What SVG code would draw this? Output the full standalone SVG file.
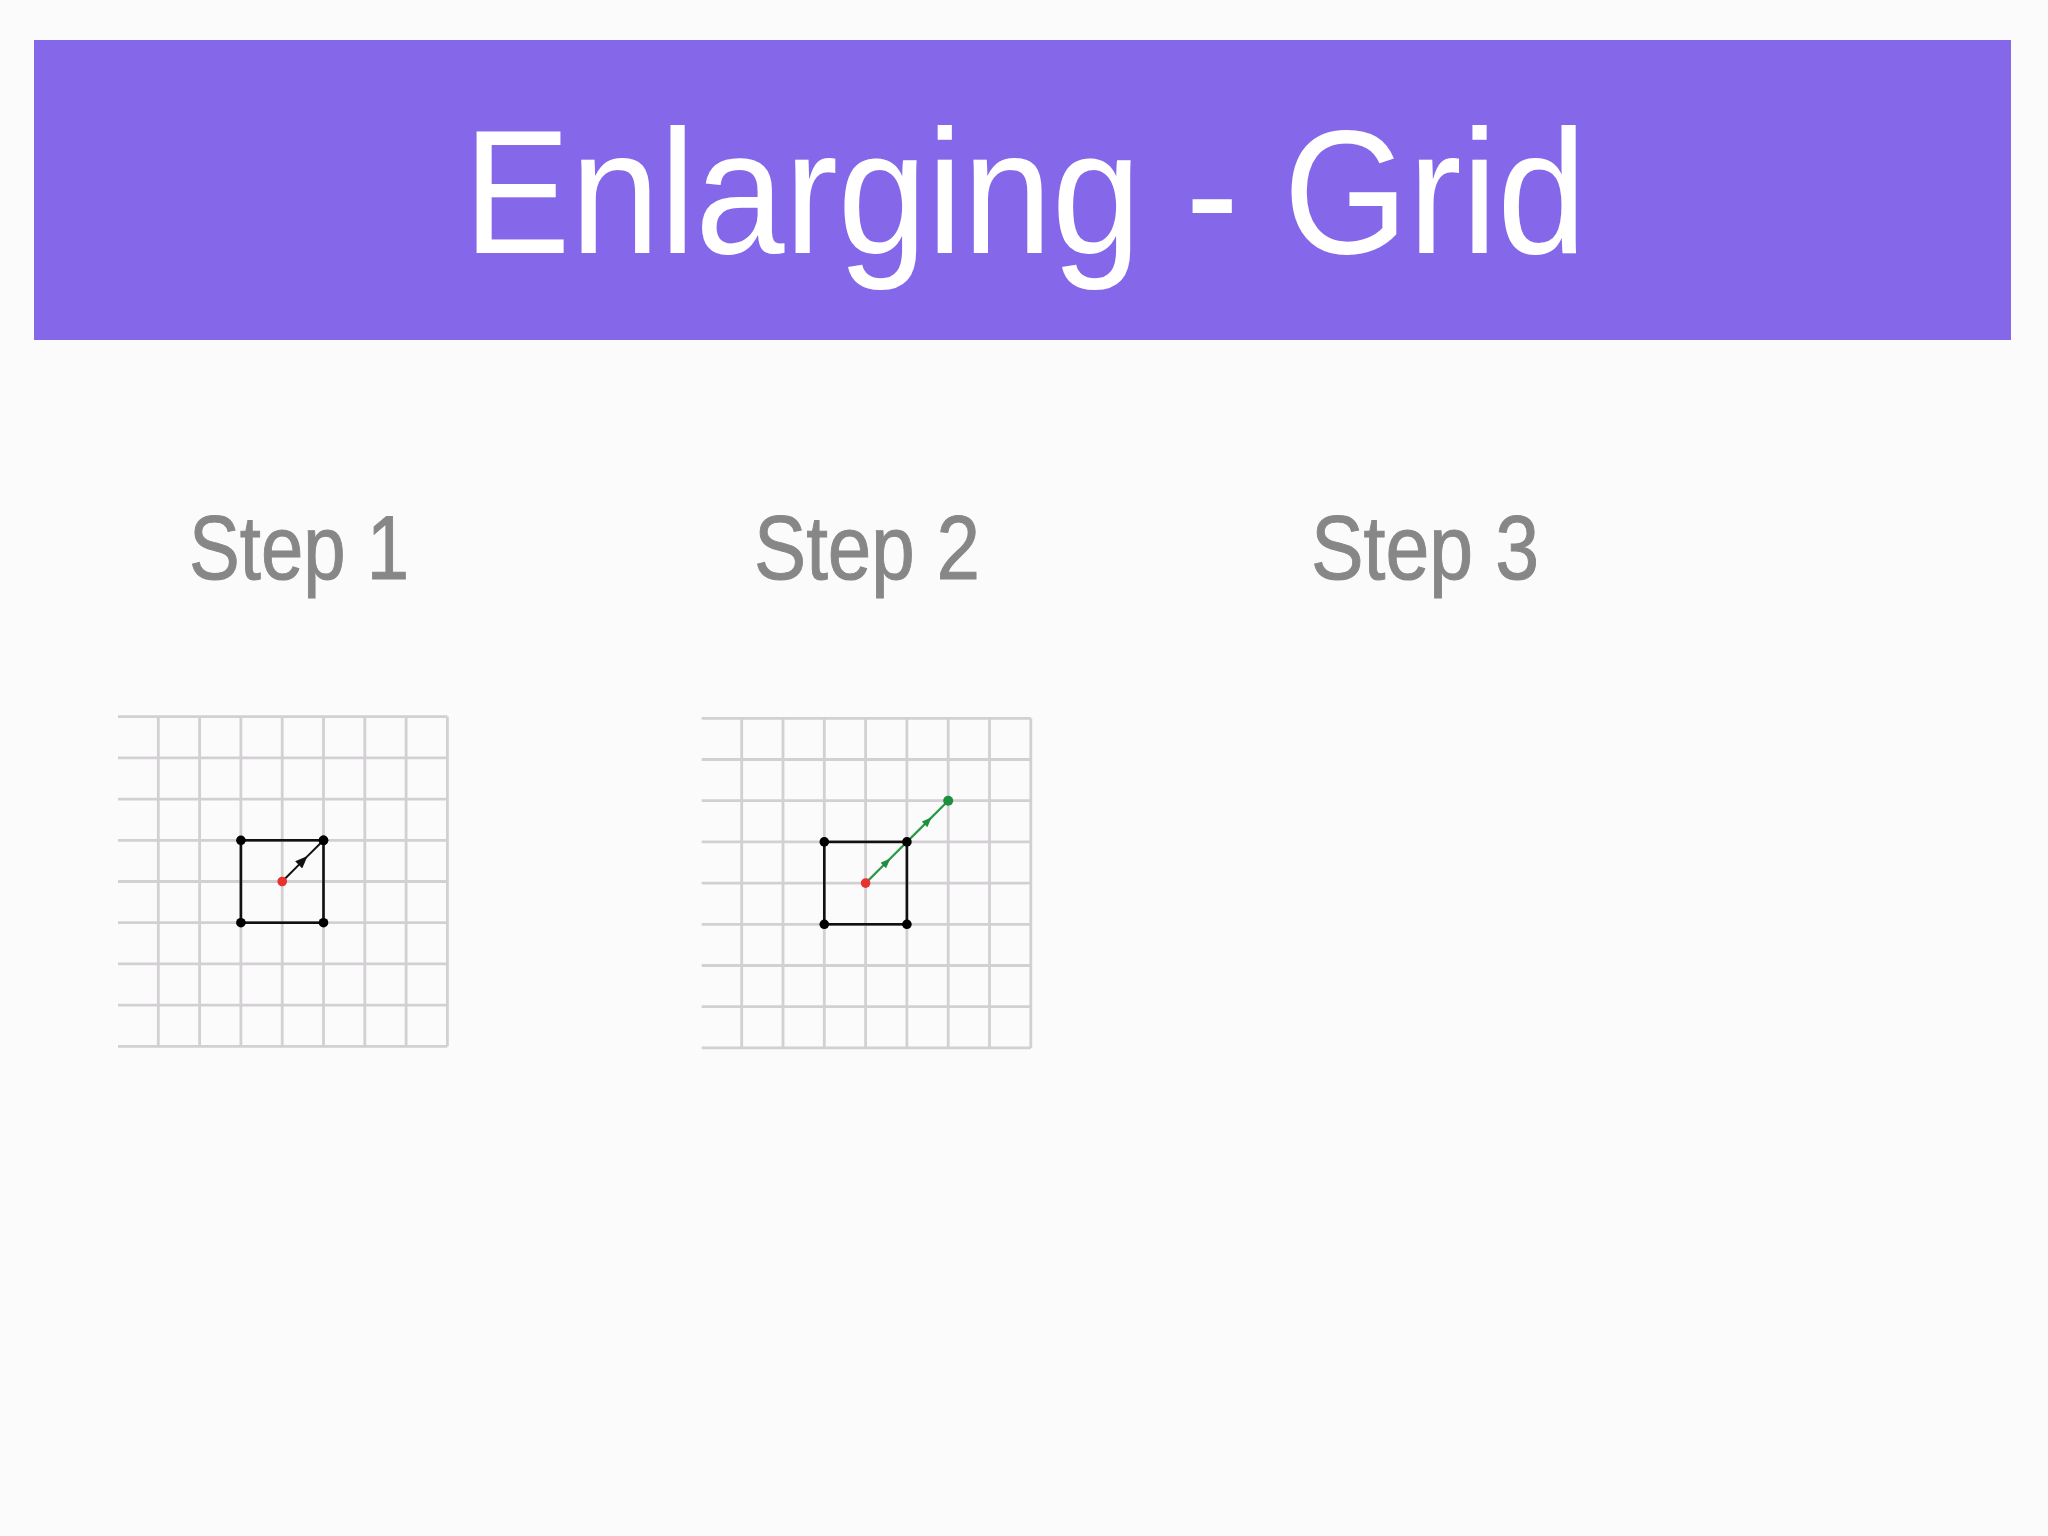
<svg xmlns="http://www.w3.org/2000/svg" width="2048" height="1536" viewBox="0 0 2048 1536">
<defs>
<style>
.bg{fill:#fcfbfc}
.header{fill:#8568e9}
.title{font-family:"Century Gothic","Liberation Sans",Arial,sans-serif;font-size:176px;fill:#ffffff;text-anchor:middle}
.step{font-family:"Century Gothic","Liberation Sans",Arial,sans-serif;font-size:90px;fill:#878787;stroke:#878787;stroke-width:1}
.grid line{stroke:#d2d0d2;stroke-width:2.8}
.sq{fill:none;stroke:#111;stroke-width:2.6}
.blk{fill:#000}
.red{fill:#e8322f}
.grn{fill:#1e8f3e}
.arr{fill:none;stroke:#111;stroke-width:2}
.garr{fill:none;stroke:#2a9a4a;stroke-width:2.2}
</style>
<marker id="ah" viewBox="0 0 10 8" refX="6" refY="4" markerWidth="13" markerHeight="10" markerUnits="userSpaceOnUse" orient="auto"><path d="M0,0 L10,4 L0,8 z" fill="#111"/></marker>
<marker id="gah" viewBox="0 0 10 8" refX="6" refY="4" markerWidth="11" markerHeight="8" markerUnits="userSpaceOnUse" orient="auto"><path d="M0,0 L10,4 L0,8 z" fill="#1e8f3e"/></marker>
</defs>
<rect class="bg" x="0" y="0" width="2048" height="1536"/>
<g id="header">
<rect class="header" x="34" y="40" width="1977" height="300"/>
<text class="title" x="1025" y="253" textLength="1123" lengthAdjust="spacingAndGlyphs">Enlarging - Grid</text>
</g>
<g id="step1-label"><text class="step" x="189" y="579" textLength="220" lengthAdjust="spacingAndGlyphs">Step 1</text></g>
<g id="step2-label"><text class="step" x="754" y="579" textLength="226" lengthAdjust="spacingAndGlyphs">Step 2</text></g>
<g id="step3-label"><text class="step" x="1311" y="579" textLength="228" lengthAdjust="spacingAndGlyphs">Step 3</text></g>

<g id="grid1">
<g class="grid">
<line x1="118" y1="716.7" x2="447.4" y2="716.7"/>
<line x1="118" y1="757.9" x2="447.4" y2="757.9"/>
<line x1="118" y1="799.1" x2="447.4" y2="799.1"/>
<line x1="118" y1="840.3" x2="447.4" y2="840.3"/>
<line x1="118" y1="881.5" x2="447.4" y2="881.5"/>
<line x1="118" y1="922.7" x2="447.4" y2="922.7"/>
<line x1="118" y1="963.9" x2="447.4" y2="963.9"/>
<line x1="118" y1="1005.1" x2="447.4" y2="1005.1"/>
<line x1="118" y1="1046.3" x2="447.4" y2="1046.3"/>
<line x1="158.3" y1="716.7" x2="158.3" y2="1046.3"/>
<line x1="199.6" y1="716.7" x2="199.6" y2="1046.3"/>
<line x1="240.9" y1="716.7" x2="240.9" y2="1046.3"/>
<line x1="282.2" y1="716.7" x2="282.2" y2="1046.3"/>
<line x1="323.5" y1="716.7" x2="323.5" y2="1046.3"/>
<line x1="364.8" y1="716.7" x2="364.8" y2="1046.3"/>
<line x1="406.1" y1="716.7" x2="406.1" y2="1046.3"/>
<line x1="447.4" y1="716.7" x2="447.4" y2="1046.3"/>
</g>
<rect class="sq" x="240.9" y="840.3" width="82.6" height="82.4"/>
<circle class="blk" cx="240.9" cy="840.3" r="4.8"/>
<circle class="blk" cx="323.5" cy="840.3" r="4.8"/>
<circle class="blk" cx="240.9" cy="922.7" r="4.8"/>
<circle class="blk" cx="323.5" cy="922.7" r="4.8"/>
</g>

<g id="grid2">
<g class="grid">
<line x1="701.7" y1="718.3" x2="1030.8" y2="718.3"/>
<line x1="701.7" y1="759.5" x2="1030.8" y2="759.5"/>
<line x1="701.7" y1="800.7" x2="1030.8" y2="800.7"/>
<line x1="701.7" y1="841.9" x2="1030.8" y2="841.9"/>
<line x1="701.7" y1="883.1" x2="1030.8" y2="883.1"/>
<line x1="701.7" y1="924.3" x2="1030.8" y2="924.3"/>
<line x1="701.7" y1="965.5" x2="1030.8" y2="965.5"/>
<line x1="701.7" y1="1006.7" x2="1030.8" y2="1006.7"/>
<line x1="701.7" y1="1047.9" x2="1030.8" y2="1047.9"/>
<line x1="741.7" y1="718.3" x2="741.7" y2="1047.9"/>
<line x1="783" y1="718.3" x2="783" y2="1047.9"/>
<line x1="824.3" y1="718.3" x2="824.3" y2="1047.9"/>
<line x1="865.6" y1="718.3" x2="865.6" y2="1047.9"/>
<line x1="906.9" y1="718.3" x2="906.9" y2="1047.9"/>
<line x1="948.2" y1="718.3" x2="948.2" y2="1047.9"/>
<line x1="989.5" y1="718.3" x2="989.5" y2="1047.9"/>
<line x1="1030.8" y1="718.3" x2="1030.8" y2="1047.9"/>
</g>
<rect class="sq" x="824.3" y="841.9" width="82.6" height="82.4"/>
<circle class="blk" cx="824.3" cy="841.9" r="4.8"/>
<circle class="blk" cx="824.3" cy="924.3" r="4.8"/>
<circle class="blk" cx="906.9" cy="924.3" r="4.8"/>
</g>

<g id="connectors">
<path class="arr" d="M282.2,881.5 L304,859.6 L323.5,840.3" marker-mid="url(#ah)"/>
<path class="garr" d="M865.6,883.1 L887.5,861.3 L906.9,841.9" marker-mid="url(#gah)"/>
<path class="garr" d="M906.9,841.9 L928.8,820.1 L948.2,800.7" marker-mid="url(#gah)"/>
</g>
<g id="points">
<circle class="red" cx="282.2" cy="881.5" r="4.8"/>
<circle class="red" cx="865.6" cy="883.1" r="4.8"/>
<circle class="blk" cx="906.9" cy="841.9" r="4.8"/>
<circle class="blk" cx="323.5" cy="840.3" r="4.8"/>
<circle class="grn" cx="948.2" cy="800.7" r="5"/>
</g>
</svg>
